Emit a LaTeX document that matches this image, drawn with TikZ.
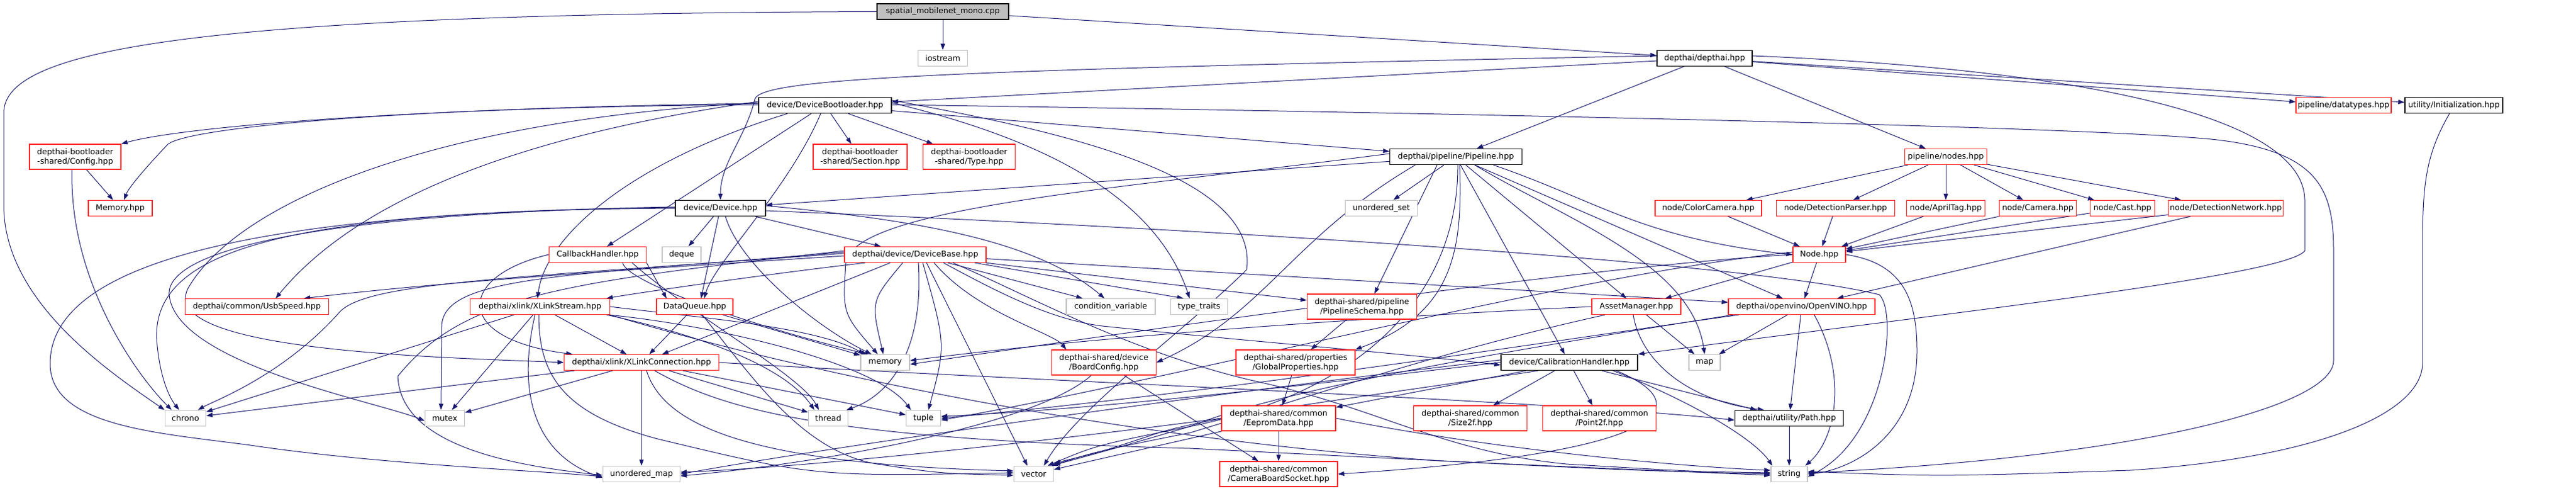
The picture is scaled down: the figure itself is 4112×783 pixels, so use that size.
\documentclass[tikz,border=0pt]{standalone}
\usepackage{fontspec}
\setmainfont{DejaVu Sans}
\usetikzlibrary{arrows.meta}
\pgfdeclarelayer{bgfill}
\pgfdeclarelayer{edges}
\pgfsetlayers{bgfill,edges,main}
\definecolor{edgeblue}{HTML}{191970}
\definecolor{boxred}{HTML}{FF2020}
\definecolor{boxgray}{HTML}{C0C0C0}
\definecolor{topfill}{HTML}{BFBFBF}
\begin{document}
\begin{tikzpicture}[x=1pt,y=-1pt,
  every node/.style={font=\fontsize{12.7}{15}\selectfont, inner sep=0pt, align=center},
  gbox/.style={draw=boxgray, line width=1.5pt, fill=white, minimum height=25pt},
  rbox/.style={draw=boxred, line width=1.2pt, fill=white, minimum height=25pt},
  rboxt/.style={draw=boxred, line width=1.2pt, fill=white, minimum height=40pt},
  bbox/.style={draw=black, line width=1.4pt, fill=white, minimum height=25pt},
  topbox/.style={draw=black, line width=1.4pt, fill=topfill, minimum height=25pt},
  e/.style={draw=edgeblue, line width=1pt, -{Triangle[length=10pt,width=7pt]}}
]
\begin{pgfonlayer}{bgfill}
\fill[white] (0,0) rectangle (4112,783);
\end{pgfonlayer}
\useasboundingbox (0,0) rectangle (4112,783);

% ---------- nodes ----------
\node[topbox, minimum width=210pt] (spatial) at (1505,18.5) {spatial\_mobilenet\_mono.cpp};
\node[gbox, minimum width=79pt] (iostream) at (1505,93) {iostream};
\node[bbox, minimum width=152pt] (depthai) at (2721,93) {depthai/depthai.hpp};
\node[bbox, minimum width=212pt] (dbl) at (1317,168) {device/DeviceBootloader.hpp};
\node[rboxt, minimum width=146pt] (config) at (120,250) {depthai-bootloader\\-shared/Config.hpp};
\node[rbox, minimum width=102pt] (memhpp) at (192,332) {Memory.hpp};
\node[rboxt, minimum width=150pt] (section) at (1373,250) {depthai-bootloader\\-shared/Section.hpp};
\node[rboxt, minimum width=147pt] (type) at (1547,250) {depthai-bootloader\\-shared/Type.hpp};
\node[bbox, minimum width=144pt] (device) at (1150,332) {device/Device.hpp};
\node[rbox, minimum width=155pt] (callback) at (954,406) {CallbackHandler.hpp};
\node[gbox, minimum width=62pt] (deque) at (1088,406) {deque};
\node[rbox, minimum width=226pt] (devbase) at (1461,406) {depthai/device/DeviceBase.hpp};
\node[rbox, minimum width=229pt] (usb) at (410,489) {depthai/common/UsbSpeed.hpp};
\node[rbox, minimum width=223pt] (xstream) at (862,489) {depthai/xlink/XLinkStream.hpp};
\node[rbox, minimum width=122pt] (dataq) at (1109,489) {DataQueue.hpp};
\node[gbox, minimum width=142pt] (condvar) at (1773,489) {condition\_variable};
\node[gbox, minimum width=91pt] (ttraits) at (1914,489) {type\_traits};
\node[rbox, minimum width=247pt] (xconn) at (1024,578) {depthai/xlink/XLinkConnection.hpp};
\node[gbox, minimum width=78pt] (memory) at (1413,578) {memory};
\node[rboxt, minimum width=167pt] (boardcfg) at (1762,578) {depthai-shared/device\\/BoardConfig.hpp};
\node[rboxt, minimum width=190pt] (gprops) at (2068,578) {depthai-shared/properties\\/GlobalProperties.hpp};
\node[gbox, minimum width=65pt] (chrono) at (296,667) {chrono};
\node[gbox, minimum width=63pt] (mutex) at (710,667) {mutex};
\node[gbox, minimum width=63pt] (thread) at (1322,667) {thread};
\node[gbox, minimum width=55pt] (tuple) at (1474,667) {tuple};
\node[rboxt, minimum width=182pt] (eeprom) at (2041,667) {depthai-shared/common\\/EepromData.hpp};
\node[gbox, minimum width=123pt] (umap) at (1024,756) {unordered\_map};
\node[gbox, minimum width=63pt] (vector) at (1650,756) {vector};
\node[rboxt, minimum width=188pt] (camsock) at (2041,756) {depthai-shared/common\\/CameraBoardSocket.hpp};
\node[bbox, minimum width=211pt] (pipeline) at (2324,250) {depthai/pipeline/Pipeline.hpp};
\node[gbox, minimum width=115pt] (uset) at (2205,332) {unordered\_set};
\node[rbox, minimum width=170pt] (colorcam) at (2727,332) {node/ColorCamera.hpp};
\node[rbox, minimum width=189pt] (detparser) at (2930,332) {node/DetectionParser.hpp};
\node[rbox, minimum width=84pt] (nodehpp) at (2904,406) {Node.hpp};
\node[rboxt, minimum width=175pt] (schema) at (2174,489) {depthai-shared/pipeline\\/PipelineSchema.hpp};
\node[rbox, minimum width=142pt] (asset) at (2612,489) {AssetManager.hpp};
\node[rbox, minimum width=234pt] (openvino) at (2876,489) {depthai/openvino/OpenVINO.hpp};
\node[bbox, minimum width=218pt] (calib) at (2505,578) {device/CalibrationHandler.hpp};
\node[gbox, minimum width=50pt] (map) at (2721,578) {map};
\node[rboxt, minimum width=181pt] (size2f) at (2347,667) {depthai-shared/common\\/Size2f.hpp};
\node[rboxt, minimum width=181pt] (point2f) at (2553,667) {depthai-shared/common\\/Point2f.hpp};
\node[bbox, minimum width=173pt] (path) at (2856,667) {depthai/utility/Path.hpp};
\node[gbox, minimum width=58pt] (string) at (2856,756) {string};
\node[rbox, minimum width=131pt] (nodes) at (3106,250) {pipeline/nodes.hpp};
\node[rbox, minimum width=125pt] (apriltag) at (3106,332) {node/AprilTag.hpp};
\node[rbox, minimum width=123pt] (camera) at (3253,332) {node/Camera.hpp};
\node[rbox, minimum width=103pt] (cast) at (3388,332) {node/Cast.hpp};
\node[rbox, minimum width=183pt] (detnet) at (3553,332) {node/DetectionNetwork.hpp};
\node[rbox, minimum width=152pt] (datatypes) at (3741,168) {pipeline/datatypes.hpp};
\node[bbox, minimum width=156pt] (init) at (3917,168) {utility/Initialization.hpp};

% ---------- edges ----------
\begin{pgfonlayer}{edges}
% spatial
\draw[e] (spatial) -- (iostream);
\draw[e] (spatial) -- (depthai);
\draw[e] (spatial.west) .. controls (300,22) and (6,80) .. (6,180) -- (6,330) .. controls (8,480) and (170,590) .. (chrono.north west);
% depthai
\draw[e] (depthai) -- (dbl);
\draw[e] ([yshift=4pt]depthai.west) .. controls (1500,112) and (1215,125) .. (1205,158) .. controls (1190,220) and (1150,260) .. (device.north);
\draw[e] (depthai) -- (pipeline);
\draw[e] (depthai) -- (nodes);
\draw[e] (depthai) -- (datatypes);
\draw[e] (depthai) -- (init);
\draw[e] ([yshift=4pt]depthai.east) .. controls (3300,110) and (3679,180) .. (3679,320) -- (3679,400) .. controls (3650,440) and (3100,500) .. (calib.north east);
% DeviceBootloader
\draw[e] ([yshift=1pt]dbl.west) .. controls (700,170) and (300,200) .. (config.north east);
\draw[e] ([yshift=3pt]dbl.west) .. controls (600,173) and (300,205) .. (268,230) .. controls (230,270) and (205,300) .. ([xshift=6pt]memhpp.north);
\draw[e] ([yshift=6pt]dbl.west) .. controls (800,220) and (560,330) .. ([xshift=30pt]usb.north);
\draw[e] ([xshift=-60pt]dbl.south) .. controls (1000,260) and (870,380) .. ([xshift=-4pt]xstream.north);
\draw[e] ([yshift=4pt]dbl.west) .. controls (700,190) and (380,320) .. (300,460) .. controls (250,560) and (700,570) .. (xconn.west);
\draw[e] ([xshift=-22pt]dbl.south) -- ([xshift=15pt]callback.north);
\draw[e] ([xshift=-7pt]dbl.south) .. controls (1260,300) and (1140,420) .. ([xshift=15pt]dataq.north);
\draw[e] (dbl) -- (section);
\draw[e] (dbl) -- (type);
\draw[e] (dbl) -- (pipeline);
\draw[e] ([yshift=4pt]dbl.east) .. controls (1700,230) and (1850,330) .. ([xshift=-15pt]ttraits.north);
\draw[e] ([yshift=8pt]dbl.east) .. controls (1700,210) and (2010,280) .. (1990,430) .. controls (1900,520) and (1720,650) .. ([xshift=-16pt]vector.north east);
\draw[e] ([yshift=1pt]dbl.east) .. controls (2200,178) and (3300,200) .. (3530,222) .. controls (3700,240) and (3725,300) .. (3725,400) -- (3725,575) .. controls (3725,650) and (3400,730) .. ([yshift=2pt]string.east);
% Config
\draw[e] (config) -- (memhpp);
\draw[e] ([xshift=-5pt]config.south) .. controls (110,450) and (220,600) .. ([xshift=-22pt]chrono.north);
% Device
\draw[e] (device.west) .. controls (450,336) and (245,400) .. (250,540) .. controls (255,610) and (275,640) .. ([xshift=-10pt]chrono.north);
\draw[e] ([yshift=1pt]device.west) .. controls (400,337) and (80,420) .. (80,580) .. controls (80,680) and (250,690) .. (400,710) .. controls (600,740) and (850,750) .. ([yshift=-4pt]umap.west);
\draw[e] ([yshift=2pt]device.west) .. controls (500,340) and (265,400) .. (270,470) .. controls (280,580) and (600,640) .. ([yshift=-4pt]mutex.west);
\draw[e] (device) -- (deque);
\draw[e] ([xshift=-3pt]device.south) -- ([xshift=10pt]dataq.north);
\draw[e] ([xshift=8pt]device.south) .. controls (1180,420) and (1300,520) .. ([xshift=-22pt]memory.north);
\draw[e] (device) -- (devbase);
\draw[e] ([yshift=4pt]device.east) .. controls (1450,350) and (1650,380) .. ([xshift=-10pt]condvar.north);
\draw[e] ([yshift=-4pt]device.east) .. controls (2000,368) and (2800,420) .. (3000,470) .. controls (3030,500) and (3010,700) .. ([yshift=-4pt]string.east);
% CallbackHandler
\draw[e] (callback.west) .. controls (730,440) and (720,540) .. ([xshift=-110pt]xconn.north);
\draw[e] ([xshift=40pt]callback.south) .. controls (1000,450) and (1200,520) .. ([xshift=-28pt]memory.north);
\draw[e] ([xshift=55pt]callback.south) .. controls (1100,500) and (1280,600) .. ([xshift=-15pt]thread.north);
\draw[e] (callback.south east) -- ([xshift=-45pt]dataq.north);
% DeviceBase
\draw[e] ([yshift=-2pt]devbase.west) .. controls (1000,430) and (700,450) .. ([xshift=75pt]usb.north);
\draw[e] ([yshift=2pt]devbase.west) .. controls (800,445) and (580,450) .. (540,500) .. controls (450,600) and (340,640) .. ([xshift=20pt]chrono.north);
\draw[e] ([yshift=4pt]devbase.west) .. controls (900,440) and (708,440) .. (705,520) -- ([xshift=-6pt]mutex.north);
\draw[e] ([yshift=6pt]devbase.west) .. controls (900,450) and (740,470) .. (635,600) .. controls (640,720) and (850,745) .. ([yshift=-2pt]umap.west);
\draw[e] ([xshift=-80pt]devbase.south) .. controls (1200,440) and (1000,470) .. ([xshift=-6pt]xstream.north east);
\draw[e] ([xshift=-40pt]devbase.south) -- ([xshift=33pt]xconn.north);
\draw[e] ([xshift=-20pt]devbase.south) .. controls (1390,480) .. ([xshift=-3pt]memory.north);
\draw[e] ([xshift=5pt]devbase.south) .. controls (1475,560) and (1420,630) .. ([xshift=-3pt]thread.north east);
\draw[e] ([xshift=12pt]devbase.south) .. controls (1510,550) .. ([xshift=8pt]tuple.north);
\draw[e] ([xshift=18pt]devbase.south) -- ([xshift=-10pt]vector.north);
\draw[e] ([xshift=30pt]devbase.south) .. controls (1560,500) and (1680,530) .. ([xshift=-60pt]boardcfg.north);
\draw[e] ([xshift=45pt]devbase.south) .. controls (1600,470) and (1680,510) .. (1760,520) .. controls (2000,545) and (2200,560) .. ([yshift=-4pt]calib.west);
\draw[e] ([xshift=52pt]devbase.south) -- ([xshift=-45pt]condvar.north);
\draw[e] ([xshift=60pt]devbase.south) .. controls (1640,470) and (1800,560) .. (2000,607) .. controls (2200,650) and (2300,720) .. (2500,740) .. controls (2700,752) .. ([yshift=2pt]string.west);
\draw[e] ([xshift=95pt]devbase.south) -- ([xshift=-25pt]ttraits.north);
\draw[e] (devbase) -- (schema);
\draw[e] (devbase) -- (openvino);
% XLinkStream
\draw[e] (xstream) -- (chrono);
\draw[e] (xstream) -- (mutex);
\draw[e] ([xshift=-8pt]xstream.south) .. controls (820,650) and (870,730) .. ([yshift=-6pt]umap.west);
\draw[e] ([xshift=-2pt]xstream.south) .. controls (860,600) and (900,660) .. (1050,700) .. controls (1300,760) .. ([yshift=2pt]vector.west);
\draw[e] (xstream) -- (xconn);
\draw[e] (xstream.east) .. controls (1100,505) and (1300,520) .. ([xshift=-33pt]memory.north);
\draw[e] ([xshift=-6pt]xstream.south east) .. controls (1100,530) and (1250,580) .. ([xshift=-22pt]thread.north);
\draw[e] ([xshift=-2pt]xstream.south east) .. controls (1150,520) and (1400,580) .. ([xshift=-20pt]tuple.north);
\draw[e] (xstream.south east) .. controls (1300,600) and (1800,700) .. (2300,735) .. controls (2600,750) .. (string.west);
% XLinkConnection
\draw[e] (xconn) -- (umap);
\draw[e] ([xshift=8pt]xconn.south) .. controls (1060,680) and (1200,740) .. ([yshift=5pt]vector.west);
\draw[e] ([xshift=21pt]xconn.south) .. controls (1150,650) and (1300,700) .. (1900,715) .. controls (2400,740) .. ([yshift=-2pt]string.west);
\draw[e] (xconn) -- (thread);
\draw[e] (xconn) -- (tuple);
\draw[e] (xconn.east) .. controls (1500,600) and (2500,640) .. ([yshift=-3pt]path.west);
\draw[e] (xconn) -- (chrono);
\draw[e] (xconn) -- (mutex);
% DataQueue
\draw[e] (dataq) -- (xconn);
\draw[e] ([xshift=12pt]dataq.south) .. controls (1200,600) and (1280,720) .. (1400,740) .. controls (1500,755) .. ([yshift=-2pt]vector.west);
\draw[e] (dataq) -- (memory);
% BoardConfig, GlobalProperties, EepromData, PipelineSchema
\draw[e] ([xshift=-20pt]boardcfg.south) .. controls (1650,680) and (1300,740) .. ([yshift=-3pt]umap.east);
\draw[e] (boardcfg) -- (camsock);
\draw[e] (gprops) -- (eeprom);
\draw[e] (eeprom) -- (camsock);
\draw[e] (eeprom.west) .. controls (1700,700) and (1300,745) .. ([yshift=3pt]umap.east);
\draw[e] (eeprom) -- (vector);
\draw[e] (eeprom.east) .. controls (2400,720) and (2700,745) .. ([yshift=6pt]string.west);
\draw[e] (schema) -- (gprops);
% Pipeline
\draw[e] (pipeline) -- (device);
\draw[e] ([yshift=5pt]pipeline.west) .. controls (1800,300) and (1360,330) .. (1350,420) .. controls (1345,500) .. ([xshift=-12pt]memory.north);
\draw[e] (pipeline) -- (uset);
\draw[e] ([xshift=-30pt]pipeline.south) -- ([xshift=20pt]schema.north);
\draw[e] ([xshift=6pt]pipeline.south) .. controls (2335,400) and (2320,500) .. (gprops.north east);
\draw[e] (pipeline) -- (calib);
\draw[e] (pipeline) -- (asset);
\draw[e] ([xshift=30pt]pipeline.south) .. controls (2500,350) and (2700,420) .. (map.north);
\draw[e] (pipeline) -- (openvino);
\draw[e] ([xshift=60pt]pipeline.south) .. controls (2550,320) and (2620,380) .. (nodehpp.west);
\draw[e] ([xshift=-65pt]pipeline.south) .. controls (2060,380) and (2020,500) .. (boardcfg.east);
\draw[e] ([xshift=3pt]pipeline.south) .. controls (2328,450) and (2200,620) .. (1900,680) .. controls (1750,710) .. ([xshift=-10pt]vector.north east);
% Node.hpp
\draw[e] (nodehpp.west) .. controls (2600,420) and (2000,500) .. ([yshift=-3pt]memory.east);
\draw[e] ([yshift=4pt]nodehpp.west) .. controls (2500,440) and (1900,600) .. ([yshift=-3pt]tuple.east);
\draw[e] (nodehpp) -- (asset);
\draw[e] (nodehpp) -- (openvino);
\draw[e] (nodehpp.east) .. controls (3040,420) and (3060,480) .. (3060,560) .. controls (3060,700) and (2950,750) .. (string.east);
% AssetManager
\draw[e] (asset.west) .. controls (2300,500) and (1800,530) .. ([yshift=3pt]memory.east);
\draw[e] ([xshift=-50pt]asset.south) .. controls (2300,560) and (2100,630) .. (1900,690) .. controls (1750,720) .. ([xshift=-4pt]vector.north east);
\draw[e] ([xshift=-5pt]asset.south) .. controls (2620,580) and (2700,640) .. ([xshift=-40pt]path.north);
\draw[e] (asset) -- (map);
% OpenVINO
\draw[e] ([xshift=-100pt]openvino.south) .. controls (2500,540) and (2000,620) .. (tuple.east);
\draw[e] ([xshift=-110pt]openvino.south) .. controls (2400,560) and (2050,620) .. (1900,680) .. controls (1780,715) .. ([yshift=1pt]vector.north east);
\draw[e] (openvino) -- (map);
\draw[e] (openvino) -- (path);
\draw[e] ([xshift=20pt]openvino.south) .. controls (2950,600) and (2930,700) .. ([xshift=-4pt]string.north east);
% CalibrationHandler
\draw[e] (calib.west) .. controls (2200,600) and (1800,650) .. ([yshift=3pt]tuple.east);
\draw[e] ([xshift=-50pt]calib.south) .. controls (2200,630) and (1950,660) .. (1850,690) .. controls (1760,720) .. ([yshift=4pt]vector.north east);
\draw[e] (calib) -- (eeprom);
\draw[e] (calib) -- (size2f);
\draw[e] (calib) -- (point2f);
\draw[e] (calib) -- (path);
\draw[e] ([xshift=70pt]calib.south) .. controls (2700,640) and (2800,700) .. ([xshift=3pt]string.north west);
\draw[e] ([xshift=75pt]calib.south) .. controls (2700,640) and (2700,720) .. (camsock.east);
\draw[e] ([yshift=4pt]calib.west) .. controls (2000,620) and (1400,700) .. (umap.east);
% Path
\draw[e] (path) -- (string);
% nodes
\draw[e] (nodes) -- (colorcam);
\draw[e] (nodes) -- (detparser);
\draw[e] (nodes) -- (apriltag);
\draw[e] (nodes) -- (camera);
\draw[e] (nodes) -- (cast);
\draw[e] (nodes) -- (detnet);
\draw[e] (colorcam) -- (nodehpp);
\draw[e] (detparser) -- (nodehpp);
\draw[e] (apriltag) -- (nodehpp);
\draw[e] (camera) -- (nodehpp);
\draw[e] (cast) -- (nodehpp);
\draw[e] (detnet) -- (nodehpp);
\draw[e] (detnet) -- (openvino);
% Initialization
\draw[e] ([xshift=-7pt]init.south) .. controls (3870,250) and (3867,300) .. (3867,400) -- (3867,580) .. controls (3865,660) and (3700,730) .. (3400,750) .. controls (3100,760) .. ([yshift=4pt]string.east);
\end{pgfonlayer}
\end{tikzpicture}
\end{document}
